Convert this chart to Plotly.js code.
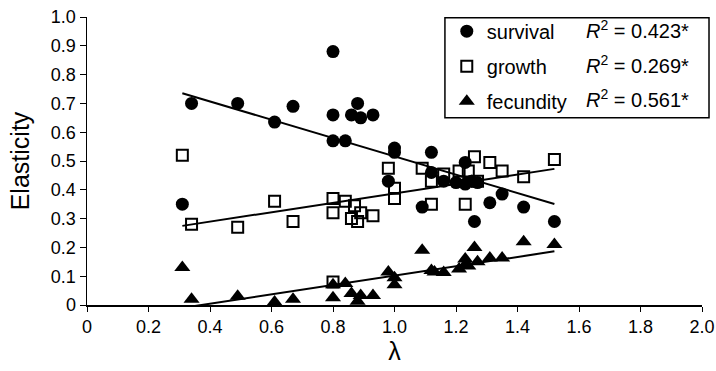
<!DOCTYPE html>
<html>
<head>
<meta charset="utf-8">
<script src="https://cdn.plot.ly/plotly-3.0.1.min.js"></script>
<style>html,body{margin:0;padding:0;background:#fff;}#chart{width:716px;height:371px;}</style>
</head>
<body>
<div id="chart"></div>
<script>
// ---- data ----
var survivalX = [0.31, 0.34, 0.49, 0.61, 0.67, 0.80, 0.80, 0.80, 0.84, 0.86, 0.88, 0.89, 0.93, 0.98, 1.00, 1.00, 1.09, 1.12, 1.12, 1.16, 1.20, 1.23, 1.23, 1.25, 1.27, 1.26, 1.31, 1.35, 1.42, 1.52];
var survivalY = [0.35, 0.70, 0.70, 0.635, 0.69, 0.88, 0.66, 0.57, 0.57, 0.66, 0.70, 0.65, 0.66, 0.43, 0.545, 0.53, 0.34, 0.53, 0.46, 0.43, 0.425, 0.495, 0.42, 0.43, 0.425, 0.29, 0.355, 0.385, 0.34, 0.29];

var growthX = [0.31, 0.34, 0.49, 0.61, 0.67, 0.80, 0.80, 0.80, 0.84, 0.86, 0.87, 0.88, 0.89, 0.93, 0.98, 1.00, 1.00, 1.09, 1.12, 1.12, 1.16, 1.21, 1.23, 1.24, 1.26, 1.27, 1.31, 1.35, 1.42, 1.52];
var growthY = [0.52, 0.28, 0.27, 0.36, 0.29, 0.37, 0.32, 0.08, 0.36, 0.30, 0.345, 0.29, 0.32, 0.31, 0.475, 0.405, 0.37, 0.475, 0.43, 0.35, 0.455, 0.465, 0.35, 0.465, 0.515, 0.43, 0.495, 0.465, 0.445, 0.505];

var fecundityX = [0.31, 0.34, 0.49, 0.61, 0.67, 0.80, 0.80, 0.84, 0.86, 0.88, 0.89, 0.93, 0.98, 1.00, 1.00, 1.09, 1.12, 1.13, 1.16, 1.21, 1.23, 1.23, 1.24, 1.26, 1.27, 1.31, 1.35, 1.42, 1.52];
var fecundityY = [0.13, 0.02, 0.03, 0.01, 0.02, 0.07, 0.025, 0.075, 0.04, 0.013, 0.033, 0.033, 0.115, 0.095, 0.07, 0.19, 0.12, 0.115, 0.113, 0.125, 0.16, 0.14, 0.135, 0.20, 0.15, 0.163, 0.163, 0.22, 0.21];

// regression fits (intercept, slope) and fitted lambda range
var fitRange = [0.31, 1.52];
var survivalFit = [0.834, -0.318];
var growthFit = [0.224, 0.1636];
var fecundityFit = [-0.0604, 0.1623];

var seriesNames = ["survival", "growth", "fecundity"];
var r2Labels = ["0.423*", "0.269*", "0.561*"];

var xTickVals = [0, 0.2, 0.4, 0.6, 0.8, 1.0, 1.2, 1.4, 1.6, 1.8, 2.0];
var xTickText = ["0", "0.2", "0.4", "0.6", "0.8", "1.0", "1.2", "1.4", "1.6", "1.8", "2.0"];
var yTickVals = [0, 0.1, 0.2, 0.3, 0.4, 0.5, 0.6, 0.7, 0.8, 0.9, 1.0];
var yTickText = ["0", "0.1", "0.2", "0.3", "0.4", "0.5", "0.6", "0.7", "0.8", "0.9", "1.0"];

// ---- build ----
var FONT = "Liberation Sans, Arial, Helvetica, sans-serif";
function fitLine(fit) {
  return { x: fitRange.slice(), y: fitRange.map(function (v) { return fit[0] + fit[1] * v; }) };
}

var traces = [];
[survivalFit, growthFit, fecundityFit].forEach(function (f) {
  var l = fitLine(f);
  traces.push({ x: l.x, y: l.y, mode: "lines", type: "scatter", showlegend: false, hoverinfo: "skip",
    line: { color: "#000", width: 2 } });
});
traces.push({ x: survivalX, y: survivalY, mode: "markers", type: "scatter", name: seriesNames[0],
  legendgroup: "a", cliponaxis: false,
  marker: { symbol: "circle", size: 13, color: "#000" } });
traces.push({ x: growthX, y: growthY, mode: "markers", type: "scatter", name: seriesNames[1],
  legendgroup: "b", cliponaxis: false,
  marker: { symbol: "square-open", size: 11, color: "#000", line: { width: 2, color: "#000" } } });
traces.push({ x: fecundityX, y: fecundityY, mode: "markers", type: "scatter", name: seriesNames[2],
  legendgroup: "c", cliponaxis: false,
  marker: { symbol: "triangle-up", size: 14, color: "#000" } });

var rowY = [0.957, 0.836, 0.717];
var annotations = r2Labels.map(function (t, i) {
  return { xref: "paper", yref: "paper", x: 0.982, y: rowY[i], xanchor: "right", yanchor: "middle",
    showarrow: false, text: "<i>R</i><sup>2</sup> = " + t, font: { family: FONT, size: 20, color: "#000" } };
});

var layout = {
  width: 716, height: 371,
  margin: { l: 87, r: 14, t: 17, b: 66 },
  paper_bgcolor: "#fff", plot_bgcolor: "#fff",
  font: { family: FONT, color: "#000" },
  showlegend: true,
  legend: { x: 0.585, y: 1.0184, xanchor: "left", yanchor: "top", bgcolor: "rgba(0,0,0,0)",
    borderwidth: 0, font: { family: FONT, size: 20, color: "#000" },
    tracegroupgap: 6, traceorder: "grouped" },
  shapes: [{ type: "rect", xref: "paper", yref: "paper", x0: 0.582, x1: 1.0114, y0: 0.650, y1: 0.9976,
    line: { color: "#000", width: 1.5 }, fillcolor: "#fff", layer: "above" }],
  xaxis: { range: [0, 2], showgrid: false, zeroline: false, showline: true, linecolor: "#000", linewidth: 1.5,
    ticks: "outside", ticklen: 5, tickwidth: 1, tickcolor: "#000",
    tickvals: xTickVals, ticktext: xTickText, tickfont: { family: FONT, size: 18, color: "#000" },
    title: { text: "λ", font: { family: FONT, size: 25, color: "#000" }, standoff: 6 } },
  yaxis: { range: [0, 1], showgrid: false, zeroline: false, showline: true, linecolor: "#000", linewidth: 1.5,
    ticks: "outside", ticklen: 6, tickwidth: 1, tickcolor: "#000",
    tickvals: yTickVals, ticktext: yTickText, tickfont: { family: FONT, size: 18, color: "#000" },
    title: { text: "Elasticity", font: { family: FONT, size: 25, color: "#000" }, standoff: 14 } },
  annotations: annotations
};

Plotly.newPlot("chart", traces, layout, { displayModeBar: false, staticPlot: true });
</script>
</body>
</html>
